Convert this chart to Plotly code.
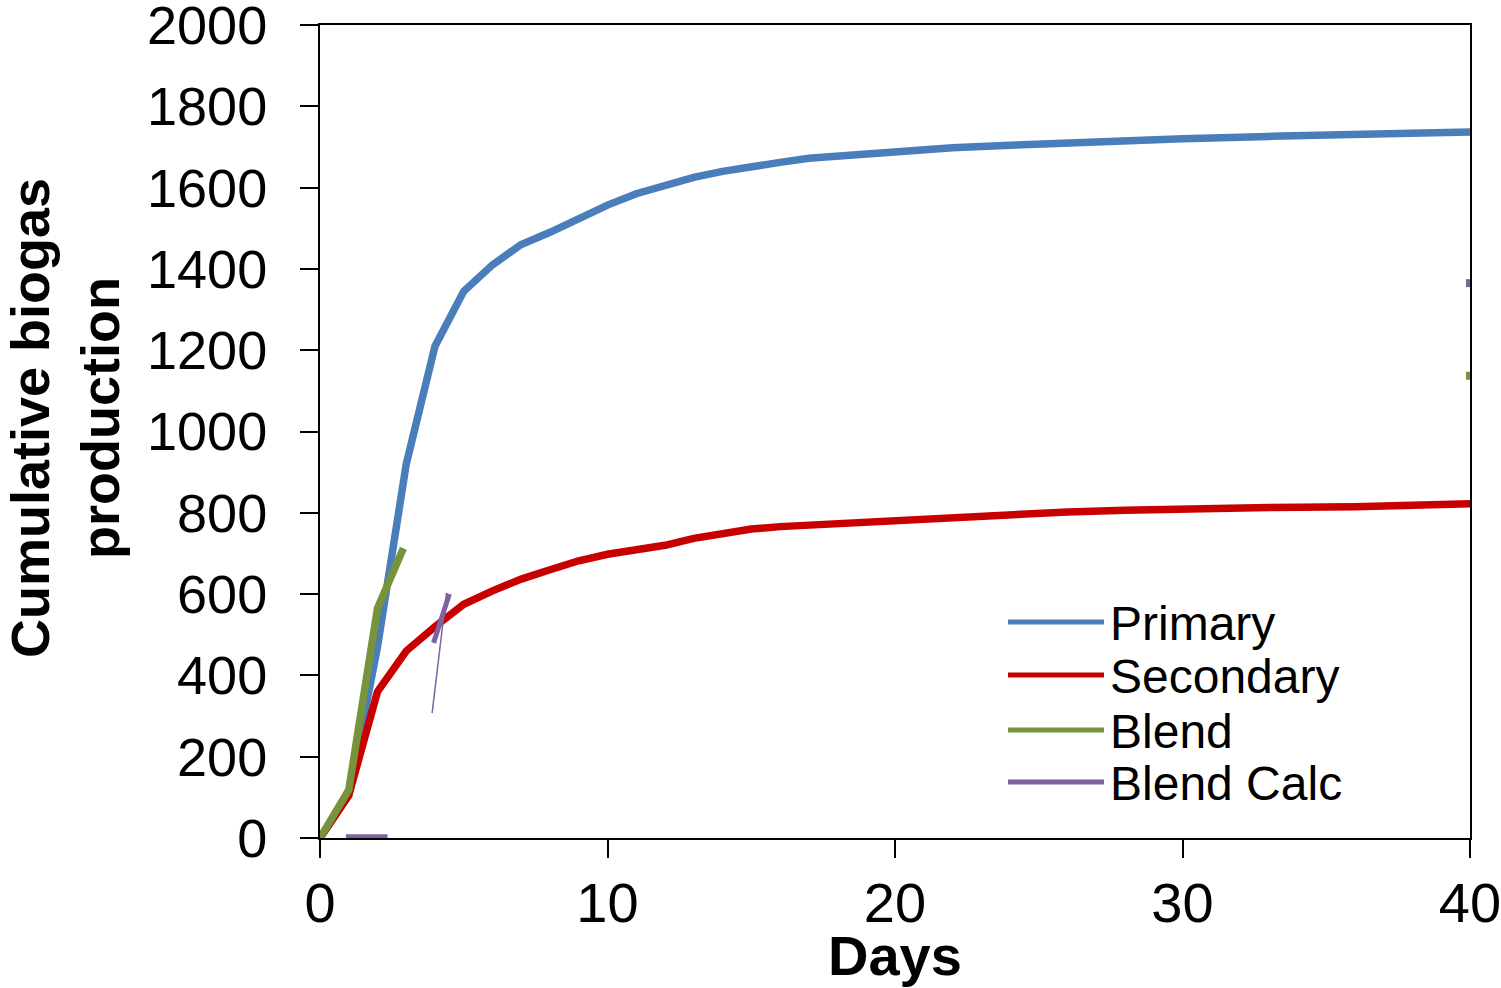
import plotly.graph_objects as go

# ---- data ----
primary_days = [0, 1, 2, 3, 4, 5, 6, 7, 8, 9, 10, 11, 12, 13, 14, 15, 16, 17, 18, 20, 22, 24, 26, 28, 30, 33, 36, 40]
primary_vals = [0, 105, 470, 920, 1210, 1345, 1410, 1460, 1490, 1525, 1557, 1585, 1606, 1625, 1640, 1653, 1662, 1672,
                1678, 1688, 1698, 1704, 1710, 1716, 1720, 1726, 1732, 1737]

secondary_days = [0, 1, 2, 3, 4, 5, 6, 7, 8, 9, 10, 11, 12, 13, 14, 15, 16, 17, 18, 20, 22, 24, 26, 28, 30, 33, 36, 40]
secondary_vals = [0, 105, 360, 460, 520, 575, 608, 637, 660, 682, 698, 710, 720, 737, 750, 760, 766, 770, 772, 780,
                  790, 796, 802, 806, 810, 813, 815, 822]

blend_days = [0, 1, 2, 2.9]
blend_vals = [0, 118, 565, 713]

calc_days = [0.9, 2.35]
calc_vals = [0, 0]
calc_spike_days = [3.9, 4.4]
calc_spike_vals = [307, 603]
calc_spike2_days = [3.95, 4.5]
calc_spike2_vals = [480, 600]

edge_days = [40]
edge_blend = [1137]
edge_calc = [1365]

x_ticks = [0, 10, 20, 30, 40]
y_ticks = list(range(0, 2001, 200))

legend_names = ["Primary", "Secondary", "Blend", "Blend Calc"]
BLUE, RED, GREEN, PURPLE = "#4A7EBB", "#C80000", "#77933C", "#7F62A2"
legend_colors = [BLUE, RED, GREEN, PURPLE]

FONT = "Liberation Sans, Arial, sans-serif"
LW = 7.5

fig = go.Figure()
fig.add_trace(go.Scatter(x=primary_days, y=primary_vals, mode="lines", name="Primary",
                         line=dict(color=BLUE, width=LW), showlegend=False))
fig.add_trace(go.Scatter(x=secondary_days, y=secondary_vals, mode="lines", name="Secondary",
                         line=dict(color=RED, width=LW), showlegend=False))
fig.add_trace(go.Scatter(x=blend_days, y=blend_vals, mode="lines", name="Blend",
                         line=dict(color=GREEN, width=LW), showlegend=False))
fig.add_trace(go.Scatter(x=calc_days, y=calc_vals, mode="lines", name="Blend Calc",
                         line=dict(color=PURPLE, width=LW), showlegend=False))
fig.add_trace(go.Scatter(x=calc_spike_days, y=calc_spike_vals, mode="lines",
                         line=dict(color=PURPLE, width=1.5), showlegend=False))
fig.add_trace(go.Scatter(x=calc_spike2_days, y=calc_spike2_vals, mode="lines",
                         line=dict(color=PURPLE, width=5), showlegend=False))
fig.add_trace(go.Scatter(x=edge_days, y=edge_blend, mode="markers",
                         marker=dict(color=GREEN, size=8, symbol="square"), showlegend=False))
fig.add_trace(go.Scatter(x=edge_days, y=edge_calc, mode="markers",
                         marker=dict(color=PURPLE, size=8, symbol="square"), showlegend=False))

L, T, W, H = 320, 25, 1150, 813
FIG_W, FIG_H = 1501, 988

def px_x(p):
    return (p - L) / W

def px_y(p):
    return (T + H - p) / H

shapes = []
annotations = []
legend_rows = [622, 675, 730, 782]
for name, col, yy in zip(legend_names, legend_colors, legend_rows):
    shapes.append(dict(type="line", xref="paper", yref="paper",
                       x0=px_x(1008), x1=px_x(1104), y0=px_y(yy), y1=px_y(yy),
                       line=dict(color=col, width=5)))
    annotations.append(dict(text=name, xref="paper", yref="paper", x=px_x(1108), y=px_y(yy + 1),
                            xanchor="left", yanchor="middle", showarrow=False,
                            font=dict(family=FONT, size=48, color="black")))

annotations.append(dict(text="<b>Cumulative biogas<br>production</b>", textangle=-90,
                        xref="paper", yref="paper", x=px_x(65), y=px_y(418),
                        xanchor="center", yanchor="middle", showarrow=False,
                        font=dict(family=FONT, size=54, color="black")))
annotations.append(dict(text="<b>Days</b>", xref="paper", yref="paper", x=px_x(895), y=px_y(955),
                        xanchor="center", yanchor="middle", showarrow=False,
                        font=dict(family=FONT, size=56, color="black")))

fig.update_layout(
    width=FIG_W, height=FIG_H,
    margin=dict(l=L, r=FIG_W - L - W, t=T, b=FIG_H - T - H, autoexpand=False),
    paper_bgcolor="white", plot_bgcolor="white",
    font=dict(family=FONT, color="black"),
    shapes=shapes, annotations=annotations,
    showlegend=False,
)
fig.update_xaxes(range=[0, 40], tickvals=x_ticks, ticktext=[str(v) for v in x_ticks],
                 ticks="outside", ticklen=18, tickwidth=2, tickcolor="black",
                 showline=True, linecolor="black", linewidth=2, mirror=True,
                 showgrid=False, zeroline=False, tickfont=dict(size=56, family=FONT),
                 ticklabelstandoff=-3, ticklabeloverflow="allow")
fig.update_yaxes(range=[0, 2000], tickvals=y_ticks, ticktext=[str(v) for v in y_ticks],
                 ticks="outside", ticklen=18, tickwidth=2, tickcolor="black",
                 showline=True, linecolor="black", linewidth=2, mirror=True,
                 showgrid=False, zeroline=False, tickfont=dict(size=54, family=FONT),
                 ticklabelstandoff=22, ticklabeloverflow="allow")

fig.write_html("out.html", config={"displayModeBar": False},
               post_script="document.body.style.margin='0';document.body.style.overflow='hidden';")
